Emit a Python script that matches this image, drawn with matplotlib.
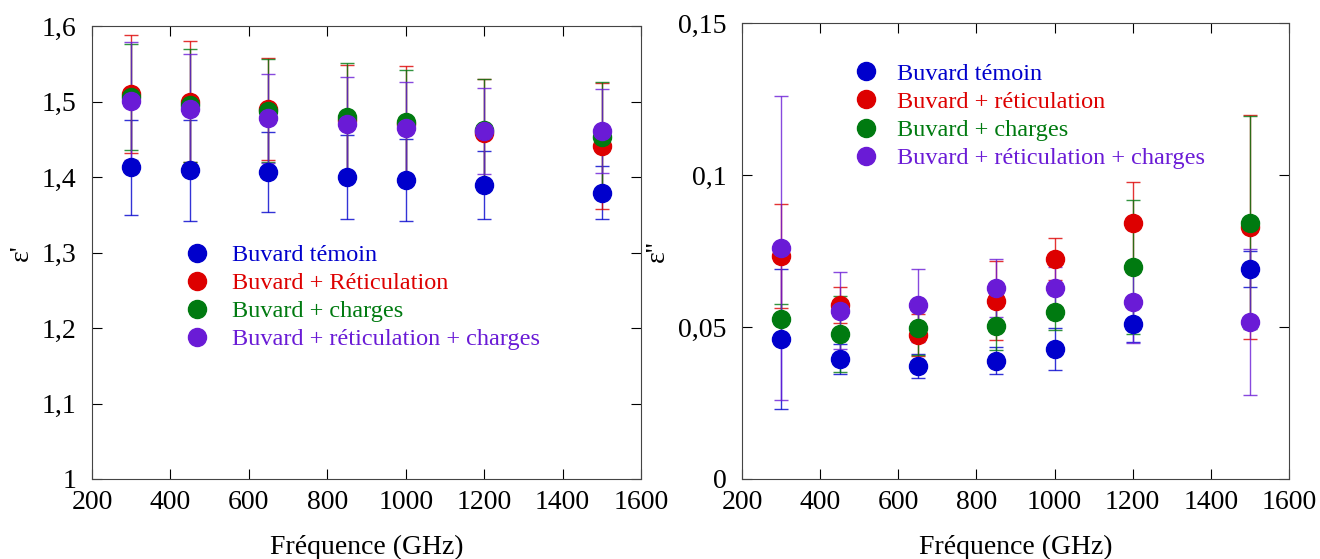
import matplotlib.pyplot as plt
from matplotlib.ticker import FuncFormatter, MultipleLocator
import numpy as np

plt.rcParams['font.family'] = ['Liberation Serif', 'DejaVu Serif']

freq = [300, 450, 650, 850, 1000, 1200, 1500]

# epsilon' (left panel)
eps1_temoin = [1.413, 1.409, 1.406, 1.400, 1.396, 1.389, 1.379]
eps1_temoin_err = [0.063, 0.067, 0.053, 0.056, 0.054, 0.045, 0.035]
eps1_retic = [1.510, 1.500, 1.490, 1.476, 1.470, 1.458, 1.441]
eps1_retic_err = [0.078, 0.080, 0.068, 0.072, 0.077, 0.072, 0.083]
eps1_charges = [1.506, 1.495, 1.488, 1.479, 1.473, 1.462, 1.453]
eps1_charges_err = [0.070, 0.075, 0.068, 0.072, 0.069, 0.068, 0.073]
eps1_retic_charges = [1.501, 1.490, 1.478, 1.470, 1.465, 1.461, 1.461]
eps1_retic_charges_err = [0.078, 0.073, 0.059, 0.062, 0.061, 0.057, 0.056]

# epsilon'' (right panel)
eps2_temoin = [0.046, 0.0395, 0.0372, 0.0389, 0.0428, 0.051, 0.069]
eps2_temoin_err = [0.023, 0.005, 0.004, 0.0045, 0.007, 0.006, 0.006]
eps2_retic = [0.0734, 0.0572, 0.0474, 0.0586, 0.0724, 0.0842, 0.0829]
eps2_retic_err = [0.017, 0.006, 0.007, 0.013, 0.007, 0.0135, 0.037]
eps2_charges = [0.0526, 0.0477, 0.0497, 0.0503, 0.055, 0.0698, 0.0843]
eps2_charges_err = [0.005, 0.0125, 0.009, 0.008, 0.006, 0.022, 0.035]
eps2_retic_charges = [0.076, 0.0553, 0.0572, 0.0628, 0.0628, 0.0582, 0.0516]
eps2_retic_charges_err = [0.050, 0.0127, 0.012, 0.0096, 0.007, 0.0135, 0.024]

colors = ['#0000cc', '#dd0000', '#007a10', '#6a1bd6']
labels_left = ['Buvard témoin', 'Buvard + Réticulation', 'Buvard + charges',
               'Buvard + réticulation + charges']
labels_right = ['Buvard témoin', 'Buvard + réticulation', 'Buvard + charges',
                'Buvard + réticulation + charges']


def comma(v, pos):
    s = ('%g' % round(v, 4))
    return s.replace('.', ',')


def panel(ax, series, errors, labels, legend_pos, textpad):
    for y, e, c in zip(series, errors, colors):
        ax.errorbar(freq, y, yerr=e, fmt='none', ecolor=c, elinewidth=1,
                    capsize=5, capthick=1, alpha=0.8)
    handles = []
    for y, c, lab in zip(series, colors, labels):
        h, = ax.plot(freq, y, 'o', color=c, markersize=13, label=lab)
        handles.append(h)
    ax.legend(handles=handles, loc='upper left', bbox_to_anchor=legend_pos,
              frameon=False, fontsize=17.5, handletextpad=textpad,
              labelspacing=0.25, handlelength=1.2,
              labelcolor=colors, borderaxespad=0)
    ax.set_xlim(200, 1600)
    ax.xaxis.set_major_locator(MultipleLocator(200))
    ax.yaxis.set_major_formatter(FuncFormatter(comma))
    ax.tick_params(direction='in', top=True, right=True, length=7,
                   labelsize=20)
    ax.tick_params(axis='x', pad=8)
    ax.tick_params(axis='y', pad=11)
    for s in ax.spines.values():
        s.set_color('#444444')
    ax.set_xlabel('Fréquence (GHz)', fontsize=20, labelpad=14)


fig = plt.figure(figsize=(13.2, 5.59), dpi=100)
ax1 = fig.add_axes([92 / 1320, 1 - 479 / 559, 549 / 1320, 453 / 559])
ax2 = fig.add_axes([742 / 1320, 1 - 479 / 559, 547 / 1320, 456 / 559])

panel(ax1,
      [eps1_temoin, eps1_retic, eps1_charges, eps1_retic_charges],
      [eps1_temoin_err, eps1_retic_err, eps1_charges_err, eps1_retic_charges_err],
      labels_left, (0.147, 0.54), 0.85)
ax1.set_ylim(1.0, 1.6)
ax1.yaxis.set_major_locator(MultipleLocator(0.1))
ax1.set_ylabel("ε'", fontsize=20, labelpad=6)

panel(ax2,
      [eps2_temoin, eps2_retic, eps2_charges, eps2_retic_charges],
      [eps2_temoin_err, eps2_retic_err, eps2_charges_err, eps2_retic_charges_err],
      labels_right, (0.182, 0.934), 0.7)
ax2.set_ylim(0, 0.15)
ax2.yaxis.set_major_locator(MultipleLocator(0.05))
ax2.set_ylabel("ε''", fontsize=20, labelpad=6)

fig.savefig('out.png', dpi=100)
